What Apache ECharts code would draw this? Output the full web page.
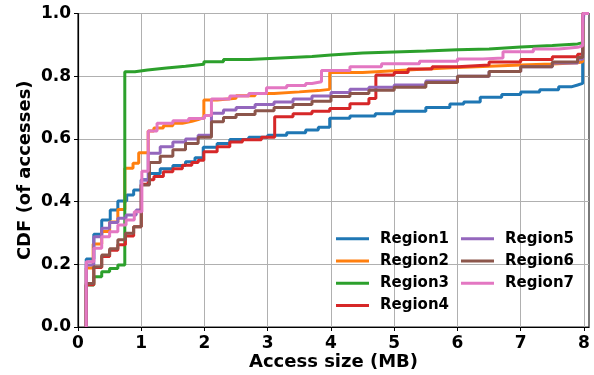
<!DOCTYPE html>
<html>
<head>
<meta charset="utf-8">
<script src="https://cdn.jsdelivr.net/npm/echarts@6/dist/echarts.min.js"></script>
<style>html,body{margin:0;padding:0;background:#fff}#c{width:594px;height:375px}</style>
</head>
<body>
<div id="c"></div>
<script>
const seriesNames = ['Region1','Region2','Region3','Region4','Region5','Region6','Region7'];
const colors = ['#1f77b4','#ff7f0e','#2ca02c','#d62728','#9467bd','#8c564b','#e377c2'];
const xTicks = [0,1,2,3,4,5,6,7,8];
const yTicks = [0,0.2,0.4,0.6,0.8,1.0];

const region1 = [[0.13,0],[0.13,0.217],[0.25,0.296],[0.375,0.341],[0.51,0.373],[0.63,0.402],[0.77,0.421],[0.88,0.437],[1.0,0.47],[1.12,0.49],[1.3,0.505],[1.5,0.515],[1.7,0.527],[1.85,0.54],[1.98,0.573],[2.2,0.585],[2.4,0.598],[2.7,0.605],[3.0,0.612],[3.3,0.62],[3.6,0.628],[3.8,0.637],[3.98,0.666],[4.3,0.673],[4.7,0.68],[5.0,0.688],[5.5,0.7],[5.88,0.711],[6.1,0.718],[6.36,0.733],[6.7,0.742],[7.0,0.75],[7.3,0.757],[7.6,0.766],[7.8,0.772],[7.9,0.777],[7.98,1.0],[8.08,1.0]];
const region2 = [[0.13,0],[0.13,0.188],[0.24,0.265],[0.375,0.305],[0.5,0.335],[0.63,0.375],[0.74,0.506],[0.87,0.522],[0.96,0.556],[1.11,0.625],[1.2,0.635],[1.35,0.642],[1.5,0.65],[1.65,0.656],[1.8,0.662],[1.9,0.668],[1.99,0.724],[2.2,0.73],[2.5,0.738],[2.8,0.745],[3.1,0.75],[3.5,0.754],[3.8,0.758],[3.98,0.812],[4.5,0.817],[5.0,0.823],[5.5,0.828],[6.0,0.832],[6.5,0.836],[7.0,0.839],[7.5,0.843],[7.9,0.846],[7.98,1.0],[8.08,1.0]];
const region3 = [[0.13,0],[0.13,0.134],[0.25,0.16],[0.375,0.176],[0.5,0.187],[0.63,0.198],[0.74,0.814],[0.9,0.82],[1.1,0.826],[1.4,0.832],[1.7,0.838],[1.99,0.846],[2.3,0.853],[2.7,0.858],[3.2,0.863],[3.7,0.868],[4.0,0.874],[4.5,0.877],[5.0,0.88],[5.5,0.884],[6.0,0.887],[6.5,0.893],[7.0,0.898],[7.5,0.903],[7.9,0.907],[7.98,1.0],[8.08,1.0]];
const region4 = [[0.13,0],[0.13,0.135],[0.25,0.19],[0.375,0.225],[0.5,0.245],[0.63,0.262],[0.75,0.29],[0.88,0.32],[1.0,0.455],[1.11,0.47],[1.2,0.48],[1.35,0.495],[1.5,0.505],[1.65,0.516],[1.8,0.525],[1.9,0.532],[1.99,0.559],[2.2,0.575],[2.4,0.59],[2.6,0.597],[2.9,0.605],[3.11,0.671],[3.4,0.68],[3.7,0.688],[3.98,0.697],[4.3,0.712],[4.6,0.729],[4.71,0.804],[5.0,0.812],[5.22,0.823],[5.6,0.83],[6.0,0.836],[6.5,0.845],[7.0,0.853],[7.5,0.862],[7.9,0.87],[7.98,1.0],[8.08,1.0]];
const region5 = [[0.13,0],[0.13,0.198],[0.25,0.288],[0.375,0.315],[0.5,0.333],[0.63,0.347],[0.76,0.357],[0.92,0.373],[1.0,0.469],[1.11,0.554],[1.3,0.575],[1.5,0.59],[1.7,0.6],[1.9,0.612],[2.11,0.682],[2.3,0.692],[2.5,0.7],[2.8,0.71],[3.1,0.718],[3.4,0.727],[3.7,0.737],[4.0,0.748],[4.3,0.758],[4.6,0.765],[5.0,0.772],[5.5,0.785],[6.0,0.8],[6.5,0.815],[7.0,0.83],[7.5,0.842],[7.9,0.854],[7.98,0.96],[8.0,1.0],[8.08,1.0]];
const region6 = [[0.13,0],[0.13,0.139],[0.25,0.192],[0.375,0.23],[0.5,0.25],[0.63,0.278],[0.75,0.299],[0.88,0.32],[1.0,0.453],[1.13,0.525],[1.3,0.545],[1.5,0.565],[1.7,0.585],[1.9,0.605],[2.11,0.655],[2.3,0.668],[2.5,0.678],[2.8,0.69],[3.1,0.7],[3.4,0.71],[3.7,0.72],[4.0,0.735],[4.3,0.745],[4.6,0.755],[5.0,0.765],[5.5,0.78],[6.0,0.8],[6.5,0.815],[7.0,0.83],[7.5,0.845],[7.9,0.86],[7.98,1.0],[8.08,1.0]];
const region7 = [[0.13,0],[0.13,0.208],[0.25,0.251],[0.375,0.288],[0.5,0.304],[0.63,0.325],[0.76,0.341],[0.89,0.368],[1.01,0.497],[1.11,0.625],[1.25,0.65],[1.5,0.658],[1.75,0.665],[2.0,0.675],[2.11,0.727],[2.4,0.737],[2.7,0.745],[2.98,0.763],[3.3,0.77],[3.6,0.777],[3.7,0.782],[3.85,0.818],[4.3,0.83],[4.8,0.84],[5.4,0.848],[6.0,0.855],[6.4,0.858],[6.72,0.878],[7.2,0.887],[7.6,0.892],[7.9,0.897],[7.98,1.0],[8.08,1.0]];

const allData = [region1, region2, region3, region4, region5, region6, region7];
const FONT = 'DejaVu Sans';

const chart = echarts.init(document.getElementById('c'), null, {renderer: 'canvas'});

const legendCommon = {
  orient: 'vertical',
  itemWidth: 33,
  itemHeight: 3,
  itemGap: 0,
  icon: 'rect',
  textStyle: {fontFamily: FONT, fontWeight: 'bold', fontSize: 15, color: '#000', lineHeight: 22.3, padding: [0,0,0,6]},
  selectedMode: false
};

chart.setOption({
  animation: false,
  color: colors,
  grid: {left: 78, right: 5, top: 13.5, bottom: 48, containLabel: false, outerBoundsMode: 'none', show: true, borderColor: '#222', borderWidth: 1.2, backgroundColor: 'transparent'},
  legend: [
    Object.assign({}, legendCommon, {data: seriesNames.slice(0,4), left: 331, top: 222.5}),
    Object.assign({}, legendCommon, {data: seriesNames.slice(4), left: 456, top: 222.5})
  ],
  xAxis: {
    type: 'value', min: 0, max: 8.08, interval: 1,
    name: 'Access size (MB)', nameLocation: 'middle', nameGap: 26, nameMoveOverlap: false,
    nameTextStyle: {fontFamily: FONT, fontWeight: 'bold', fontSize: 18, color: '#000'},
    axisLine: {show: true, lineStyle: {color: '#000', width: 1.2}},
    axisTick: {show: true, length: 4, lineStyle: {color: '#000', width: 1}, customValues: xTicks},
    axisLabel: {fontFamily: FONT, fontWeight: 'bold', fontSize: 17, color: '#000', margin: 8, customValues: xTicks},
    splitLine: {show: true, lineStyle: {color: '#b0b0b0', width: 1}}
  },
  yAxis: {
    type: 'value', min: 0, max: 1, interval: 0.2,
    name: 'CDF (of accesses)', nameLocation: 'middle', nameGap: 44, nameMoveOverlap: false,
    nameTextStyle: {fontFamily: FONT, fontWeight: 'bold', fontSize: 18, color: '#000'},
    axisLine: {show: true, lineStyle: {color: '#000', width: 1.2}},
    axisTick: {show: true, length: 4, lineStyle: {color: '#000', width: 1}, customValues: yTicks},
    axisLabel: {fontFamily: FONT, fontWeight: 'bold', fontSize: 17, color: '#000', margin: 7, customValues: yTicks, formatter: v => v.toFixed(1)},
    splitLine: {show: true, lineStyle: {color: '#b0b0b0', width: 1}}
  },
  series: allData.map((d, i) => ({
    name: seriesNames[i],
    type: 'line',
    step: 'end',
    data: d,
    showSymbol: false,
    symbol: 'none',
    lineStyle: {width: 3, color: colors[i]},
    clip: true
  }))
});
</script>
</body>
</html>
